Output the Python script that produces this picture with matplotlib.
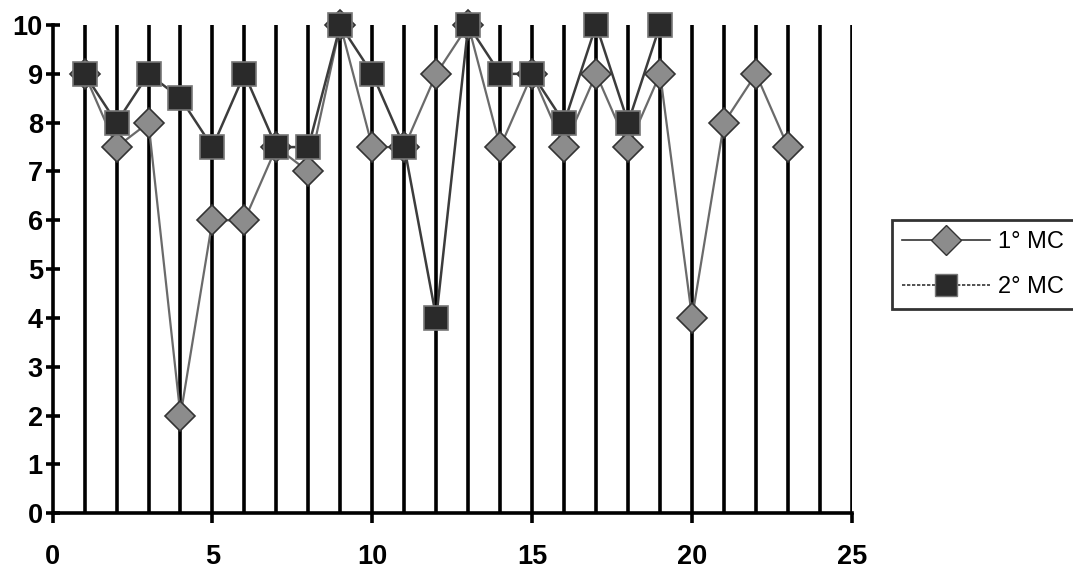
import matplotlib.pyplot as plt

plt.rcParams['font.family'] = ['Liberation Sans', 'DejaVu Sans']

x1 = list(range(1, 24))
mc1 = [9, 7.5, 8, 2, 6, 6, 7.5, 7, 10, 7.5, 7.5, 9, 10, 7.5, 9, 7.5, 9, 7.5, 9, 4, 8, 9, 7.5]
x2 = list(range(1, 20))
mc2 = [9, 8, 9, 8.5, 7.5, 9, 7.5, 7.5, 10, 9, 7.5, 4, 10, 9, 9, 8, 10, 8, 10]

fig = plt.figure(figsize=(10.73, 5.69), dpi=100)
ax = fig.add_axes([0.049, 0.098, 0.745, 0.858])

# vertical grid lines at every integer
for v in range(1, 26):
    ax.axvline(v, color='black', lw=2.6, zorder=1)

ax.plot(x1, mc1, color='#6a6a6a', lw=1.6, marker='D', ms=15,
        mfc='#8c8c8c', mec='#333333', mew=1.2, zorder=3, clip_on=False)
ax.plot(x2, mc2, color='#3c3c3c', lw=1.8, marker='s', ms=17,
        mfc='#2a2a2a', mec='#777777', mew=1.2, zorder=4, clip_on=False)

ax.set_xlim(0, 25)
ax.set_ylim(0, 10)
ax.set_xticks(range(0, 26, 5))
ax.set_yticks(range(0, 11))

for s in ['top', 'right']:
    ax.spines[s].set_visible(False)
for s in ['left', 'bottom']:
    ax.spines[s].set_linewidth(2.6)

ax.tick_params(axis='x', direction='out', length=7, width=2.6, pad=15,
               labelsize=19.5)
ax.tick_params(axis='y', direction='inout', length=10, width=2.6, pad=2,
               labelsize=19.5)
for lab in ax.get_xticklabels() + ax.get_yticklabels():
    lab.set_fontweight('bold')

h1, = ax.plot([], [], color='#333333', lw=1.2, marker='D', ms=15,
              mfc='#8c8c8c', mec='#333333')
h2, = ax.plot([], [], color='#333333', lw=1.2, ls=(0, (2, 1)), marker='s', ms=16,
              mfc='#2a2a2a', mec='#777777')
leg = fig.legend([h1, h2], ['1° MC', '2° MC'], loc='upper left',
                 bbox_to_anchor=(0.831, 0.613), frameon=True, fancybox=False,
                 fontsize=17, handlelength=3.7, handletextpad=0.35,
                 borderpad=0.45, labelspacing=1.0, borderaxespad=0)
leg.get_frame().set_edgecolor('black')
leg.get_frame().set_linewidth(2)

fig.savefig('out.png', dpi=100)
